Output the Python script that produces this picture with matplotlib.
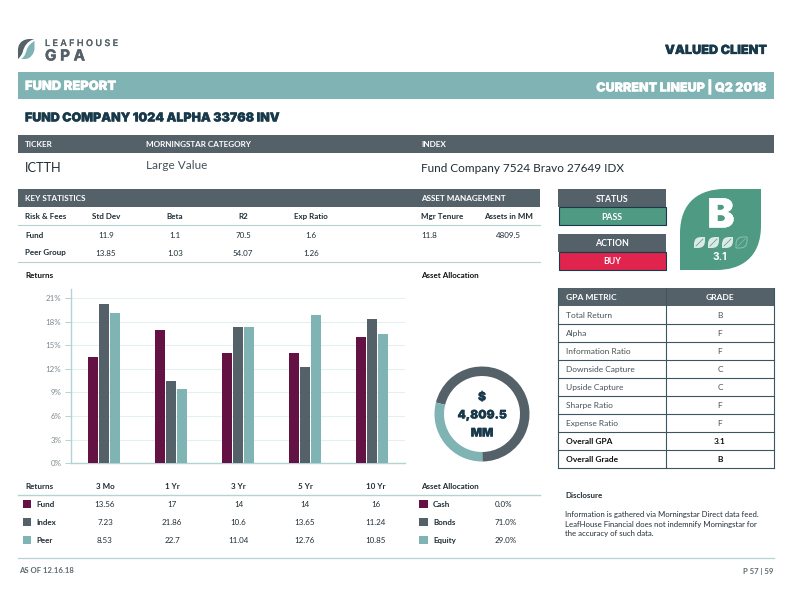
#!/usr/bin/env python3
"""Fund report page: header bands, stat tables, returns bars, allocation donut."""
import matplotlib
import numpy as np

matplotlib.use("Agg")
import matplotlib.patheffects as pe  # noqa: E402
import matplotlib.pyplot as plt  # noqa: E402
from matplotlib.patches import PathPatch, Rectangle  # noqa: E402
from matplotlib.path import Path  # noqa: E402

W, H = 792, 612
TEAL = "#80b3b4"
SLATE = "#546169"
NAVY = "#17394a"
PLUM = "#641244"
GREEN = "#4f9a82"
RED = "#e0244e"
RULE = "#b5d3d3"
INK = "#1f2d35"
BODY = "Lato"
HEAD = "Inter"

periods = ["3 Mo", "1 Yr", "3 Yr", "5 Yr", "10 Yr"]
# bar heights as drawn, these differ from the table underneath
bar_fund = [13.56, 17, 14, 14, 16]
bar_index = [20.2, 10.4, 17.3, 12.2, 18.4]
bar_peer = [19.1, 9.4, 17.3, 18.85, 16.4]
y_ticks = [0, 3, 6, 9, 12, 15, 18, 21]

table_fund = ["13.56", "17", "14", "14", "16"]
table_index = ["7.23", "21.86", "10.6", "13.65", "11.24"]
table_peer = ["8.53", "22.7", "11.04", "12.76", "10.85"]

alloc_names = ["Cash", "Bonds", "Equity"]
alloc_values = [0.0, 71.0, 29.0]

stat_cols = ["Std Dev", "Beta", "R2", "Exp Ratio"]
stat_fund = ["11.9", "1.1", "70.5", "1.6"]
stat_peer = ["13.85", "1.03", "54.07", "1.26"]

gpa_metrics = ["Total Return", "Alpha", "Information Ratio", "Downside Capture",
               "Upside Capture", "Sharpe Ratio", "Expense Ratio", "Overall GPA", "Overall Grade"]
gpa_grades = ["B", "F", "F", "C", "C", "F", "F", "3.1", "B"]

disclosure = ["Information is gathered via Morningstar Direct data feed.",
              "LeafHouse Financial does not indemnify Morningstar for",
              "the accuracy of such data."]


def px_axes(fig, x0, y0, x1, y1):
    return fig.add_axes([x0 / W, 1 - y1 / H, (x1 - x0) / W, (y1 - y0) / H])


def txt(ax, x, y, s, size=6.2, color=INK, weight="normal", ha="left", family=BODY, stroke=0):
    t = ax.text(x, y, s, fontsize=size, color=color, fontweight=weight, ha=ha, va="center_baseline", family=family)
    if stroke:
        t.set_path_effects([pe.withStroke(linewidth=stroke, foreground=color)])
    return t


def box(ax, x0, y0, x1, y1, fc, ec="none", lw=0):
    ax.add_patch(Rectangle((x0, y0), x1 - x0, y1 - y0, fc=fc, ec=ec, lw=lw))


def leaf(ax, x0, y0, w, h, fc, ec="none", lw=0, r=.55):
    x1, y1 = x0 + w, y0 + h
    verts = [(x0, y1), (x0, y0 + h * r), (x0, y0 + h * .15), (x0 + w * .25, y0), (x0 + w * r, y0),
             (x1, y0), (x1, y1 - h * r), (x1, y1 - h * .15), (x1 - w * .25, y1), (x1 - w * r, y1), (x0, y1)]
    codes = [Path.MOVETO, Path.LINETO, Path.CURVE4, Path.CURVE4, Path.CURVE4,
             Path.LINETO, Path.LINETO, Path.CURVE4, Path.CURVE4, Path.CURVE4, Path.CLOSEPOLY]
    ax.add_patch(PathPatch(Path(verts, codes), fc=fc, ec=ec, lw=lw))


def logo(ax):
    c4 = [Path.CURVE4] * 3
    dark = [(18, 59), (18, 50), (18, 43), (23, 39), (30, 39), (34.5, 39),
            (27, 41), (24, 47), (23, 51), (22, 55), (20, 57), (18, 59), (18, 59)]
    dark_codes = [Path.MOVETO, Path.LINETO] + c4 + [Path.LINETO] + c4 + c4 + [Path.CLOSEPOLY]
    light = [(21, 59), (25, 57), (26, 52), (27, 49), (28, 46), (31, 43), (34.5, 41), (34.5, 48),
             (34.5, 54), (30, 59), (25, 59), (21, 59)]
    light_codes = [Path.MOVETO] + c4 + c4 + [Path.LINETO] + c4 + [Path.CLOSEPOLY]
    ax.add_patch(PathPatch(Path(dark, dark_codes), fc=SLATE, lw=0))
    ax.add_patch(PathPatch(Path(light, light_codes), fc=TEAL, lw=0))
    txt(ax, 45, 42.5, "L E A F H O U S E", size=6.5, color=SLATE, weight="medium", family=HEAD, stroke=.15)
    txt(ax, 45, 54.5, "G P A", size=11, color=SLATE, weight="bold", family=HEAD, stroke=.3)


def draw_header(ax):
    logo(ax)
    txt(ax, 767, 49.5, "VALUED CLIENT", size=9.1, color=NAVY, weight="black", ha="right", family=HEAD, stroke=.2)
    box(ax, 18, 72, 774, 99, TEAL)
    txt(ax, 25, 85.5, "FUND REPORT", size=9.3, color="white", weight="black", family=HEAD, stroke=.2)
    txt(ax, 767, 85.5, "CURRENT LINEUP | Q2 2018", size=9, color="white", weight="black", ha="right",
        family=HEAD, stroke=.2)
    txt(ax, 25, 117, "FUND COMPANY 1024 ALPHA 33768 INV", size=8.95, color=NAVY, weight="black", family=HEAD,
        stroke=.2)
    box(ax, 18, 135, 774, 153, SLATE)
    for x, s in [(25, "TICKER"), (146, "MORNINGSTAR CATEGORY"), (421, "INDEX")]:
        txt(ax, x, 144, s, color="white", weight="bold", size=5.9)
    txt(ax, 25, 167, "ICTTH", size=9.2)
    txt(ax, 146, 164.5, "Large Value", size=8.5, color="#44525a")
    txt(ax, 421, 167, "Fund Company 7524 Bravo 27649 IDX", size=8.5)


def draw_stats(ax):
    box(ax, 18, 189, 540, 207, SLATE)
    txt(ax, 25, 198, "KEY STATISTICS", color="white", weight="bold", size=5.9)
    txt(ax, 421, 198, "ASSET MANAGEMENT", color="white", weight="bold", size=5.9)
    txt(ax, 25, 216, "Risk & Fees", weight="bold", size=5.8)
    txt(ax, 25, 234.5, "Fund", weight="bold", size=5.8)
    txt(ax, 25, 252.5, "Peer Group", weight="bold", size=5.8)
    for x, head, a, b in zip([106, 175, 243, 311], stat_cols, stat_fund, stat_peer):
        txt(ax, x, 216, head, weight="bold", size=5.8, ha="center")
        txt(ax, x, 234.5, a, ha="center", size=5.8)
        txt(ax, x, 252.5, b, ha="center", size=5.8)
    txt(ax, 421, 216, "Mgr Tenure", weight="bold", size=5.8)
    txt(ax, 508, 216, "Assets in MM", weight="bold", size=5.8, ha="center")
    txt(ax, 421, 234.5, "11.8", size=5.8)
    txt(ax, 508, 234.5, "4809.5", size=5.8, ha="center")
    for y in [224.5, 262]:
        ax.plot([18, 540], [y, y], color=RULE, lw=.8)
    txt(ax, 25, 275, "Returns", weight="bold", size=5.8, color="#111111")
    txt(ax, 421, 275, "Asset Allocation", weight="bold", size=5.8, color="#111111")


def draw_status(ax):
    for y, head, val, fc in [(189, "STATUS", "PASS", GREEN), (234, "ACTION", "BUY", RED)]:
        box(ax, 558, y, 666, y + 18, SLATE)
        box(ax, 558.5, y + 18, 665.5, y + 36, fc, ec=NAVY, lw=.8)
        txt(ax, 612, y + 9, head, color="white", weight="bold", size=6.3, ha="center")
        txt(ax, 612, y + 27, val, color="white", weight="bold", size=6.3, ha="center")
    leaf(ax, 680, 189, 81, 81, GREEN)
    txt(ax, 721, 213, "B", size=29, color="white", weight="black", ha="center", family=HEAD, stroke=.3)
    for i in range(4):
        x = 694 + i * 14
        if i < 3:
            leaf(ax, x, 237, 11, 11, "#dceae5", r=.7)
        else:
            leaf(ax, x, 237, 11, 11, "none", ec="#8cc2b0", lw=.7, r=.7)
        ax.plot([x + 2, x + 9], [246, 239], color=GREEN if i < 3 else "#8cc2b0", lw=.5)
    txt(ax, 720, 256, "3.1", size=7.4, color="white", weight="bold", ha="center", family=HEAD)


def draw_gpa(ax):
    box(ax, 558, 288, 774, 306, SLATE)
    txt(ax, 566, 297, "GPA METRIC", color="white", weight="bold", size=6.1)
    txt(ax, 720, 297, "GRADE", color="white", weight="bold", size=6.1, ha="center")
    for i, (m, g) in enumerate(zip(gpa_metrics, gpa_grades)):
        y = 306 + i * 18
        wt = "bold" if i >= 7 else "normal"
        txt(ax, 566, y + 9, m, size=6, weight=wt, color="#111111" if i >= 7 else "#44525a")
        txt(ax, 720, y + 9, g, size=6, weight=wt, ha="center", color="#111111" if i >= 7 else "#44525a")
        ax.plot([558, 774], [y + 18, y + 18], color="#3c5560", lw=.8)
    for x in [558, 666, 774]:
        ax.plot([x, x], [288, 468], color="#3c5560", lw=.8)


def draw_bars(fig):
    # 0% sits at y=463.3 and 21% at y=298, so the top of the axes is about 22.1
    ax = px_axes(fig, 71, 289, 405, 463.3)
    x = np.arange(len(periods))
    step = 11 / 66.8
    for off, vals, c in [(-step, bar_fund, PLUM), (0, bar_index, SLATE), (step, bar_peer, TEAL)]:
        ax.bar(x + off, vals, width=.15, color=c, zorder=3)
    ax.set_xlim(-.5, 4.5)
    ax.set_ylim(0, 22.15)
    ax.set_yticks(y_ticks)
    ax.set_yticklabels([f"{t}%" for t in y_ticks], fontsize=5.7, color="#7d898f", family=BODY)
    ax.set_xticks([])
    ax.tick_params(axis="y", length=4, width=.7, color=RULE, pad=3)
    ax.grid(axis="y", color="#e4eff1", lw=.8, zorder=0)
    for s in ["top", "right"]:
        ax.spines[s].set_visible(False)
    for s in ["left", "bottom"]:
        ax.spines[s].set_color(RULE)
        ax.spines[s].set_linewidth(1)


def draw_donut(fig, page):
    r = 47.5
    ax = px_axes(fig, 482 - r, 414 - r, 482 + r, 414 + r)
    ax.pie(alloc_values, colors=[PLUM, SLATE, TEAL], startangle=166, counterclock=False, radius=1,
           wedgeprops={"width": .2})
    ax.set_xlim(-1, 1)
    ax.set_ylim(-1, 1)
    for y, s in [(396, "$"), (414, "4,809.5"), (432, "MM")]:
        txt(page, 482, y, s, size=8.5, color=NAVY, weight="black", ha="center", family=HEAD, stroke=.2)


def draw_bottom(ax):
    xs = [105, 172, 238.5, 305, 376]
    txt(ax, 25, 486, "Returns", weight="bold", size=5.8)
    ax.plot([18, 540], [494.5, 494.5], color=RULE, lw=1)
    for x, p in zip(xs, periods):
        txt(ax, x, 486, p, weight="bold", size=5.8, ha="center")
    rows = [("Fund", PLUM, table_fund), ("Index", SLATE, table_index), ("Peer", TEAL, table_peer)]
    for y, (name, c, vals) in zip([504, 522, 540], rows):
        box(ax, 23, y - 4, 31, y + 4, c)
        txt(ax, 36, y, name, weight="bold", size=5.8)
        for x, v in zip(xs, vals):
            txt(ax, x, y, v, ha="center", size=5.8)
    txt(ax, 421, 486, "Asset Allocation", weight="bold", size=5.8)
    for y, name, c, v in zip([504, 522, 540], alloc_names, [PLUM, SLATE, TEAL], alloc_values):
        box(ax, 419, y - 4, 428, y + 4, c)
        txt(ax, 433, y, name, weight="bold", size=5.8)
        txt(ax, 495, y, f"{v:.1f}%", size=5.8)
    txt(ax, 565, 494.5, "Disclosure", weight="bold", size=5.8)
    for y, line in zip([514, 523.7, 533], disclosure):
        txt(ax, 565, y, line, size=5.58)
    ax.plot([18, 774], [557.5, 557.5], color=RULE, lw=.9)
    txt(ax, 19, 570, "AS OF 12.16.18", size=5.6, weight="bold", color="#5d6a71")
    txt(ax, 773, 571, "P 57 | 59", size=5.6, weight="bold", color="#5d6a71", ha="right")


def main():
    fig = plt.figure(figsize=(W / 100, H / 100), dpi=100)
    page = fig.add_axes([0, 0, 1, 1])
    page.set_xlim(0, W)
    page.set_ylim(H, 0)
    page.axis("off")
    draw_header(page)
    draw_stats(page)
    draw_status(page)
    draw_gpa(page)
    draw_bottom(page)
    draw_bars(fig)
    draw_donut(fig, page)
    fig.savefig("out.png", dpi=100)


if __name__ == "__main__":
    main()
